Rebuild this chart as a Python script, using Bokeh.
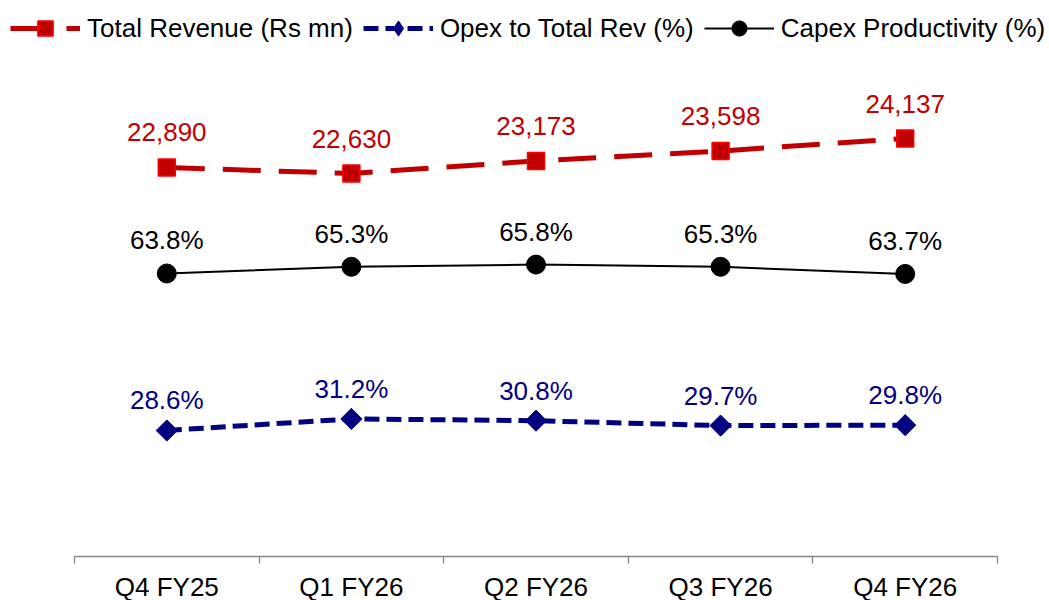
import math
from bokeh.plotting import figure
from bokeh.models import Range1d, FixedTicker, Legend, LegendItem
from bokeh.core.properties import value
from bokeh.embed import file_html
from bokeh.resources import INLINE

categories = ["Q4 FY25", "Q1 FY26", "Q2 FY26", "Q3 FY26", "Q4 FY26"]
revenue = [22890, 22630, 23173, 23598, 24137]
opex_pct = [28.6, 31.2, 30.8, 29.7, 29.8]
capex_pct = [63.8, 65.3, 65.8, 65.3, 63.7]

n = len(categories)
x = [i + 0.5 for i in range(n)]
rev_labels = [f"{v:,}" for v in revenue]
opex_labels = [f"{v:.1f}%" for v in opex_pct]
capex_labels = [f"{v:.1f}%" for v in capex_pct]

FONT = value("Liberation Sans")
FS = "26px"
RED = "#C00000"
NAVY = "#000080"

FRAME_W = 1046
AX_LEFT = 74
AX_W = 923
unit = AX_W / n
x_start = -AX_LEFT / unit
x_end = n + (FRAME_W - AX_LEFT - AX_W) / unit

p = figure(frame_width=FRAME_W, frame_height=556, min_border_left=0, min_border_right=0,
           min_border_top=0, min_border_bottom=42,
           x_range=Range1d(x_start, x_end), y_range=Range1d(0.35, 125.0),
           output_backend="svg", toolbar_location=None, y_axis_location=None)
p.extra_y_ranges = {"rev": Range1d(6142, 30078)}
p.xgrid.visible = False
p.ygrid.visible = False
p.outline_line_color = None

ax = p.xaxis[0]
ax.bounds = (0, n)
ax.ticker = FixedTicker(ticks=x, minor_ticks=list(range(n + 1)))
ax.major_label_overrides = {xi: c for xi, c in zip(x, categories)}
ax.major_tick_out = 0
ax.major_tick_in = 0
ax.minor_tick_out = 7
ax.minor_tick_in = 0
ax.minor_tick_line_color = "#868686"
ax.minor_tick_line_width = 1.3
ax.axis_line_color = "#868686"
ax.axis_line_width = 1.3
ax.major_label_standoff = 8
ax.major_label_text_font = "Liberation Sans"
ax.major_label_text_font_size = FS
ax.major_label_text_color = "black"

# Revenue
l1 = p.line(x, revenue, y_range_name="rev", line_color=RED, line_width=5, line_dash="38 18")
m1 = p.scatter(x, revenue, y_range_name="rev", marker="square", size=17,
               fill_color=RED, line_color="#FF0000", line_width=1.5)
p.text(x=x, y=revenue, text=rev_labels, y_range_name="rev", text_align="center",
       text_baseline="middle", y_offset=-35, text_font=FONT, text_font_size=FS,
       text_color=RED)

# Opex
l2 = p.line(x, opex_pct, line_color=NAVY, line_width=5, line_dash="15 7")
m2 = p.scatter(x, opex_pct, marker="square", size=15, angle=math.pi / 4,
               fill_color=NAVY, line_color=NAVY)
# legend-only diamond (no data point drawn)
m2_leg = p.scatter(x=[math.nan], y=[math.nan], marker="diamond", size=15,
                   fill_color=NAVY, line_color=NAVY)
p.text(x=x, y=opex_pct, text=opex_labels, text_align="center",
       text_baseline="middle", y_offset=-30, text_font=FONT, text_font_size=FS,
       text_color=NAVY)

# Capex
l3 = p.line(x, capex_pct, line_color="black", line_width=2)
m3 = p.scatter(x, capex_pct, marker="circle", size=19, fill_color="black", line_color="black")
p.text(x=x, y=capex_pct, text=capex_labels, text_align="center",
       text_baseline="middle", y_offset=-33, text_font=FONT, text_font_size=FS,
       text_color="black")

legend = Legend(items=[
    LegendItem(label="Total Revenue (Rs mn)", renderers=[l1, m1]),
    LegendItem(label="Opex to Total Rev (%)", renderers=[l2, m2_leg]),
    LegendItem(label="Capex Productivity (%)", renderers=[l3, m3]),
], location=(10, 509), orientation="horizontal", glyph_width=70, glyph_height=38,
    label_height=38, label_standoff=7, spacing=10, padding=0, margin=0,
    border_line_color=None, background_fill_alpha=0,
    label_text_font="Liberation Sans", label_text_font_size=FS,
    label_text_color="black")
p.add_layout(legend)

open("out.html", "w").write(file_html(p, INLINE))
